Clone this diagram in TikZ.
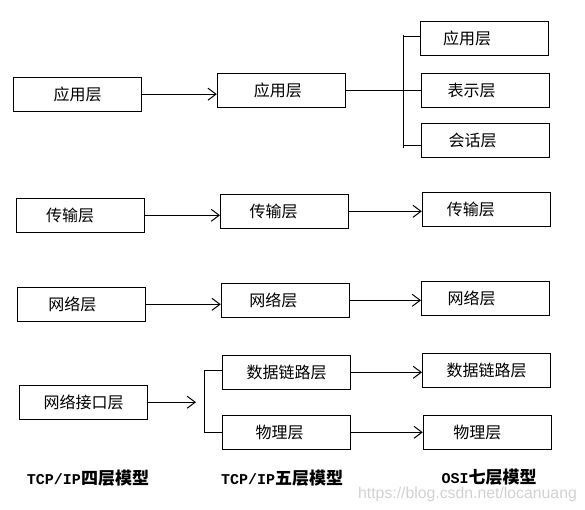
\documentclass[tikz,border=0pt]{standalone}
\usepackage{fontspec}
\usetikzlibrary{arrows.meta}
\newfontfamily\cjk{Noto Sans CJK SC}
\newfontfamily\latinmono{Liberation Mono}
\newfontfamily\wmfont{Liberation Sans}

\begin{document}
\begin{tikzpicture}[
  x=1pt, y=-1pt,
  layer/.style={rectangle, draw, line width=1pt,
    minimum width=128pt, minimum height=34pt, inner sep=0pt,
    font=\cjk\fontsize{16}{18}\selectfont},
  lpad/.style={align=left, text width=#1},
  arr/.style={line width=1pt, -{Straight Barb[length=8pt, width=12pt]}},
  link/.style={line width=1pt},
  modeltitle/.style={font=\bfseries\fontsize{17}{20}\selectfont, inner sep=0pt},
]
  \useasboundingbox (0,0) rectangle (585,509);

  % === TCP/IP four layers (left) ===
  \node[layer]            (fApp)  at (77.5,94.2)   {应用层};
  \node[layer, lpad=68pt] (fTrn)  at (80.2,215.3)  {传输层};
  \node[layer, lpad=66pt] (fNet)  at (81.3,304.3)  {网络层};
  \node[layer]            (fLink) at (83.5,402.2)  {网络接口层};

  % === TCP/IP five layers (middle) ===
  \node[layer, lpad=55pt] (vApp)  at (281.3,90.3)  {应用层};
  \node[layer, lpad=70pt] (vTrn)  at (284.5,211.3) {传输层};
  \node[layer, lpad=72pt] (vNet)  at (285.3,300.3) {网络层};
  \node[layer]            (vData) at (286.5,372.3) {数据链路层};
  \node[layer, lpad=62pt] (vPhy)  at (286.5,432.3) {物理层};

  % === OSI seven layers (right) ===
  \node[layer, lpad=83pt] (sApp)  at (484.5,38.3)  {应用层};
  \node[layer, lpad=76pt] (sPre)  at (485.5,90.3)  {表示层};
  \node[layer, lpad=74pt] (sSes)  at (485.5,140.3) {会话层};
  \node[layer, lpad=79pt] (sTrn)  at (486.3,209.3) {传输层};
  \node[layer, lpad=76pt] (sNet)  at (485.5,298.3) {网络层};
  \node[layer]            (sData) at (486.5,370.3) {数据链路层};
  \node[layer, lpad=68pt] (sPhy)  at (487.3,432.3) {物理层};

  % === fork points ===
  \coordinate (topUp)  at (403.3,36);
  \coordinate (topDn)  at (403.3,145.7);
  \coordinate (botUp)  at (204,370.7);
  \coordinate (botMid) at (204,403);
  \coordinate (botDn)  at (204,432);

  % === four -> five ===
  \draw[arr] (fApp.east) -- (fApp.east -| vApp.west);
  \draw[arr] (fTrn.east) -- (fTrn.east -| vTrn.west);
  \draw[arr] (fNet.east) -- (fNet.east -| vNet.west);
  \draw[arr, shorten >=8pt] (fLink.east) -- (fLink.east -| botMid);

  % === five -> seven ===
  \draw[link] (vApp.east) -- (vApp.east -| sPre.west);
  \draw[arr] (vTrn.east) -- (vTrn.east -| sTrn.west);
  \draw[arr] (vNet.east) -- (vNet.east -| sNet.west);
  \draw[arr] (vData.east) -- (vData.east -| sData.west);
  \draw[arr] (vPhy.east) -- (vPhy.east -| sPhy.west);

  % === brackets ===
  \draw[link] ([yshift=1pt]topUp) -- ([yshift=-2pt]topDn);
  \draw[link] (topUp) -- (topUp -| sApp.west);
  \draw[link] (topDn) -- (topDn -| sSes.west);
  \draw[link] (botUp) -- (botDn);
  \draw[link] (botUp) -- (botUp -| vData.west);
  \draw[link] (botDn) -- (botDn -| vPhy.west);

  % === model titles ===
  \node[modeltitle] (tFour) at (88,478)
    {{\latinmono\fontsize{15}{20}\selectfont TCP/IP}{\cjk 四层模型}};
  \node[modeltitle] (tFive) at (282,478)
    {{\latinmono\fontsize{15}{20}\selectfont TCP/IP}{\cjk 五层模型}};
  \node[modeltitle] (tOsi)  at (489,477.5)
    {{\latinmono\fontsize{15}{20}\selectfont OSI}{\cjk 七层模型}};

  % watermark
  \node[font=\wmfont\fontsize{15.8}{18}\selectfont, text=black!18, inner sep=0pt]
    (mark) at (467.5,494) {https://blog.csdn.net/locanuang};
\end{tikzpicture}
\end{document}
